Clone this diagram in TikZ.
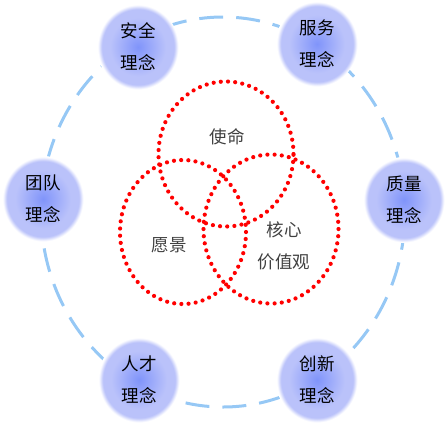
\documentclass[tikz,border=0pt]{standalone}
\usepackage{fontspec}
\usetikzlibrary{shapes.geometric}
\newfontfamily\cjk{Noto Sans CJK SC}
\definecolor{ringblue}{RGB}{150,200,245}
\definecolor{blobin}{RGB}{128,148,250}
\definecolor{blobout}{RGB}{186,194,250}
\definecolor{dotred}{RGB}{255,0,0}
\pgfdeclareradialshading{blob}{\pgfpoint{0bp}{0bp}}{color(0bp)=(blobin); color(17bp)=(blobout); color(22bp)=(blobout); color(24.5bp)=(white); color(50bp)=(white)}
\begin{document}
\begin{tikzpicture}[x=1pt,y=-1pt,
  idea/.style={ellipse, minimum width=82pt, minimum height=86pt, shading=blob, inner sep=0pt,
    font=\cjk\fontsize{17.5}{32}\selectfont, align=center, text=black},
  core/.style={ellipse, draw=dotred, line width=4.2pt, dash pattern=on 0pt off 7.2pt, line cap=round, inner sep=0pt},
  lbl/.style={font=\cjk\fontsize{17.5}{32}\selectfont, align=center, text=black!75}]
\useasboundingbox (0,0) rectangle (446,424);
\draw[ringblue, line width=3pt, dash pattern=on 24pt off 13pt] (223,212) ellipse [x radius=182pt, y radius=195pt];
\node[idea] (safety) at (138,47) {安全\\理念};
\node[idea] (service) at (317,44) {服务\\理念};
\node[idea] (team) at (43,199) {团队\\理念};
\node[idea] (quality) at (404,200) {质量\\理念};
\node[idea] (talent) at (139,380) {人才\\理念};
\node[idea] (innovation) at (317,380) {创新\\理念};
\node[core, minimum width=135pt, minimum height=145pt] (mission) at (226,154) {};
\node[core, minimum width=126pt, minimum height=144pt] (vision) at (183,232) {};
\node[core, minimum width=135pt, minimum height=149pt] (values) at (271,229) {};
\node[lbl] (lmission) at (227,137) {使命};
\node[lbl] (lvision) at (169,245) {愿景};
\node[lbl] (lvalues) at (284,246) {核心\\价值观};
\end{tikzpicture}
\end{document}
